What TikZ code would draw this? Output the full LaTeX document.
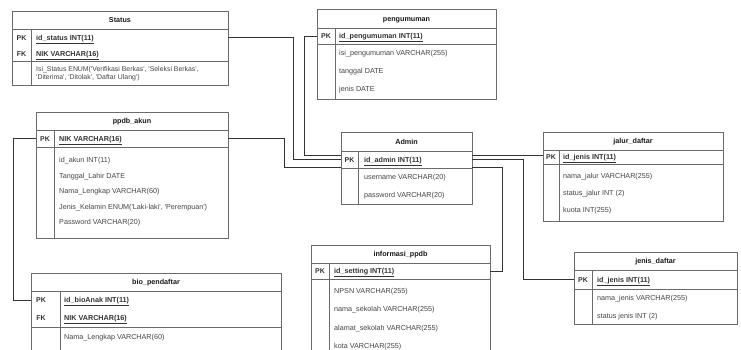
\documentclass[tikz,border=0pt]{standalone}
\usepackage{fontspec}
\newfontfamily\ersans{Liberation Sans}
\usetikzlibrary{calc}
\definecolor{bordc}{HTML}{6A6A6A}
\definecolor{linec}{HTML}{333333}
\definecolor{txtc}{HTML}{444444}
\tikzset{
  tbl/.style={draw=bordc, line width=0.7pt},
  conn/.style={draw=linec, line width=0.7pt},
  hdr/.style={font=\ersans\bfseries\fontsize{7.2}{8}\selectfont, text=black!90, inner sep=0, anchor=base, yshift=-2.6pt},
  keyl/.style={font=\ersans\bfseries\fontsize{7}{8}\selectfont, text=black!80, inner sep=0, anchor=base, yshift=-2.6pt},
  pkf/.style={font=\ersans\bfseries\fontsize{7.2}{8}\selectfont, text=black!80, anchor=base west, inner sep=0, yshift=-2.6pt},
  fld/.style={font=\ersans\fontsize{7.2}{8}\selectfont, text=txtc, anchor=base west, inner sep=0, yshift=-2.6pt},
  rowbox/.style={inner sep=0, outer sep=0, anchor=north west, draw=none},
}
\begin{document}
\begin{tikzpicture}[x=1pt,y=-1pt]
\fill[white] (0,0) rectangle (741,349);
\useasboundingbox (0,0) rectangle (741,349);

% ---------- Status ----------
\draw[tbl] (12,11) rectangle (228,85);
\draw[tbl] (12,29) -- (228,29) (12,61) -- (228,61) (31,29) -- (31,85);
\node[rowbox, minimum width=216pt, minimum height=16pt] (statusPK) at (12,29) {};
\node[hdr] (sH) at (120,20) {Status};
\node[keyl] (sK1) at (21.5,37.5) {PK};
\node[pkf] (sF1) at (36,37.5) {\underline{id\_status INT(11)}};
\node[keyl] (sK2) at (21.5,53.5) {FK};
\node[pkf] (sF2) at (36,53.5) {\underline{NIK VARCHAR(16)}};
\node[fld, font=\ersans\fontsize{6.9}{8}\selectfont] (sF3) at (36,69) {Isi\_Status ENUM('Verifikasi Berkas', 'Seleksi Berkas',};
\node[fld, font=\ersans\fontsize{6.9}{8}\selectfont] (sF4) at (36,77) {'Diterima', 'Ditolak', 'Daftar Ulang')};

% ---------- pengumuman ----------
\draw[tbl] (317,9) rectangle (496,99);
\draw[tbl] (317,28) -- (496,28) (317,44) -- (496,44) (335,28) -- (335,99);
\node[rowbox, minimum width=179pt, minimum height=16pt] (pengPK) at (317,28) {};
\node[hdr] (pH) at (406.5,18.5) {pengumuman};
\node[keyl] (pK1) at (326,36) {PK};
\node[pkf] (pF1) at (339,36) {\underline{id\_pengumuman INT(11)}};
\node[fld] (pF2) at (339,53) {isi\_pengumuman VARCHAR(255)};
\node[fld] (pF3) at (339,71) {tanggal DATE};
\node[fld] (pF4) at (339,89) {jenis DATE};

% ---------- ppdb_akun ----------
\draw[tbl] (36,112) rectangle (228,238);
\draw[tbl] (36,130) -- (228,130) (36,147) -- (228,147) (54,130) -- (54,238);
\node[rowbox, minimum width=192pt, minimum height=17pt] (ppdbPK) at (36,130) {};
\node[hdr] (aH) at (132,121) {ppdb\_akun};
\node[keyl] (aK1) at (45,138.5) {PK};
\node[pkf] (aF1) at (59,138.5) {\underline{NIK VARCHAR(16)}};
\node[fld] (aF2) at (59,160) {id\_akun INT(11)};
\node[fld] (aF3) at (59,175.5) {Tanggal\_Lahir DATE};
\node[fld] (aF4) at (59,191) {Nama\_Lengkap VARCHAR(60)};
\node[fld] (aF5) at (59,206.5) {Jenis\_Kelamin ENUM('Laki-laki', 'Perempuan')};
\node[fld] (aF6) at (59,222) {Password VARCHAR(20)};

% ---------- Admin ----------
\draw[tbl] (341,132) rectangle (472,204);
\draw[tbl] (341,151) -- (472,151) (341,168) -- (472,168) (358,151) -- (358,204);
\node[rowbox, minimum width=131pt, minimum height=17pt] (adminPK) at (341,151) {};
\node[hdr] (dH) at (406.5,141.5) {Admin};
\node[keyl] (dK1) at (349.5,159.5) {PK};
\node[pkf] (dF1) at (364,159.5) {\underline{id\_admin INT(11)}};
\node[fld] (dF2) at (364,177) {username VARCHAR(20)};
\node[fld] (dF3) at (364,195) {password VARCHAR(20)};

% ---------- jalur_daftar ----------
\draw[tbl] (543,132) rectangle (723,221);
\draw[tbl] (543,150) -- (723,150) (543,164) -- (723,164) (559,150) -- (559,221);
\node[rowbox, minimum width=180pt, minimum height=14pt] (jalurPK) at (543,150) {};
\node[hdr] (jH) at (633,141) {jalur\_daftar};
\node[keyl] (jK1) at (551,157) {PK};
\node[pkf] (jF1) at (563,157) {\underline{id\_jenis INT(11)}};
\node[fld] (jF2) at (563,176) {nama\_jalur VARCHAR(255)};
\node[fld] (jF3) at (563,193) {status\_jalur INT (2)};
\node[fld] (jF4) at (563,210) {kuota INT(255)};

% ---------- jenis_daftar ----------
\draw[tbl] (574,252) rectangle (737,324);
\draw[tbl] (574,270) -- (737,270) (574,289) -- (737,289) (592,270) -- (592,324);
\node[rowbox, minimum width=163pt, minimum height=19pt] (jenisPK) at (574,270) {};
\node[hdr] (nH) at (655.5,261) {jenis\_daftar};
\node[keyl] (nK1) at (583,279.5) {PK};
\node[pkf] (nF1) at (597,279.5) {\underline{id\_jenis INT(11)}};
\node[fld] (nF2) at (597,298) {nama\_jenis VARCHAR(255)};
\node[fld] (nF3) at (597,316) {status jenis INT (2)};

% ---------- informasi_ppdb ----------
\draw[tbl] (311,352) -- (311,245) -- (490,245) -- (490,352);
\draw[tbl] (311,263) -- (490,263) (311,279) -- (490,279) (329,263) -- (329,352);
\node[rowbox, minimum width=179pt, minimum height=16pt] (infoPK) at (311,263) {};
\node[hdr] (iH) at (400.5,254) {informasi\_ppdb};
\node[keyl] (iK1) at (320,271) {PK};
\node[pkf] (iF1) at (334,271) {\underline{id\_setting INT(11)}};
\node[fld] (iF2) at (334,291) {NPSN VARCHAR(255)};
\node[fld] (iF3) at (334,309) {nama\_sekolah VARCHAR(255)};
\node[fld] (iF4) at (334,327.5) {alamat\_sekolah VARCHAR(255)};
\node[fld] (iF5) at (334,345.5) {kota VARCHAR(255)};

% ---------- bio_pendaftar ----------
\draw[tbl] (31,352) -- (31,273) -- (281,273) -- (281,352);
\draw[tbl] (31,291) -- (281,291) (31,327) -- (281,327) (60,291) -- (60,352);
\node[rowbox, minimum width=250pt, minimum height=18pt] (bioPK) at (31,291) {};
\node[hdr] (bH) at (156,282) {bio\_pendaftar};
\node[keyl] (bK1) at (41,300) {PK};
\node[pkf] (bF1) at (64,300) {\underline{id\_bioAnak INT(11)}};
\node[keyl] (bK2) at (41,317.5) {FK};
\node[pkf] (bF2) at (64,317.5) {\underline{NIK VARCHAR(16)}};
\node[fld] (bF3) at (64,336.5) {Nama\_Lengkap VARCHAR(60)};

% ---------- connectors ----------
\coordinate (aL1) at ($(adminPK.west)+(0,-4.5)$);
\coordinate (aL3) at ($(adminPK.west)+(0,7.5)$);
\coordinate (aR1) at ($(adminPK.east)+(0,-4.5)$);
\coordinate (aR3) at ($(adminPK.east)+(0,7.5)$);

\draw[conn] (statusPK.east) -| ($(adminPK.west)+(-48,0)$) -- (adminPK.west);
\draw[conn] (pengPK.west) -| ($(aL1)+(-37,0)$) -- (aL1);
\draw[conn] (ppdbPK.east) -| ($(aL3)+(-57,0)$) -- (aL3);
\draw[conn] (aR1) -- (aR1 -| jalurPK.west);
\draw[conn] (adminPK.east) -- ++(51,0) |- (jenisPK.west);
\draw[conn] (aR3) -- ++(30,0) |- (infoPK.east);
\draw[conn] (ppdbPK.west) -- ++(-23,0) |- (bioPK.west);
\end{tikzpicture}
\end{document}
